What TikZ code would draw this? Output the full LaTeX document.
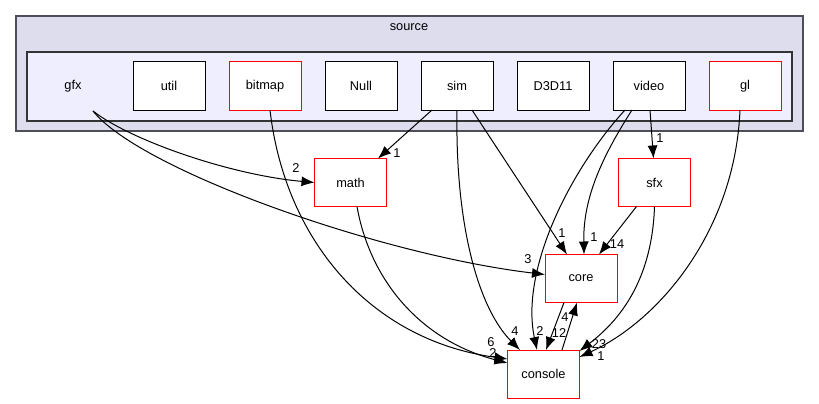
\documentclass[tikz,border=0pt]{standalone}
\usepackage{fontspec}
\setmainfont{Liberation Sans}
\usetikzlibrary{arrows.meta}
\definecolor{outerfill}{HTML}{DDDDEE}
\definecolor{innerfill}{HTML}{EEEEFF}
\definecolor{outerline}{HTML}{4E4E5A}
\definecolor{innerline}{HTML}{333333}
\definecolor{dirred}{HTML}{FF0000}
\tikzset{
  dirbox/.style={draw=black, fill=white, line width=1pt, minimum width=72pt, minimum height=48pt, inner sep=0pt, outer sep=0pt, font=\fontsize{12.8}{14}\selectfont},
  redbox/.style={dirbox, draw=dirred},
  edge/.style={draw=black, line width=1pt, -{Latex[length=13pt,width=10pt]}},
  lbl/.style={inner sep=0pt, font=\fontsize{12.8}{14}\selectfont},
}
\begin{document}
\begin{tikzpicture}[x=1pt, y=-1pt]
\useasboundingbox (0,0) rectangle (819,404);
% enclosing directory boxes
\draw[fill=outerfill, draw=outerline, line width=1.6pt] (16,16) rectangle (803,131);
\draw[fill=innerfill, draw=innerline, line width=1.2pt] (27,52) rectangle (792,121);
\node[lbl] (srclabel) at (409,27) {source};
\node[lbl] (gfx) at (73,86) {gfx};
\coordinate (gfxport) at (93,111);
% subdirectories
\node[dirbox] (util) at (169,86) {util};
\node[redbox] (bitmap) at (265,86) {bitmap};
\node[dirbox] (null) at (361,86) {Null};
\node[dirbox] (sim) at (457,86) {sim};
\node[dirbox] (d3d) at (553,86) {D3D11};
\node[dirbox] (video) at (649,86) {video};
\node[redbox] (gl) at (745,86) {gl};
% outside directories
\node[redbox] (math) at (350.5,182.5) {math};
\node[redbox] (sfx) at (654.5,182.5) {sfx};
\node[redbox] (core) at (581,278.5) {core};
\node[redbox] (console) at (543.5,374) {console};
% dependencies
\draw[edge] (gfxport) .. controls (130,140) and (230,175) .. (math.west);
\draw[edge] (gfxport) .. controls (140,170) and (380,255) .. ([yshift=4pt]core.west);
\draw[edge] ([xshift=5pt]bitmap.south) .. controls (285,240) and (370,340) .. ([yshift=-9pt]console.north west);
\draw[edge] ([xshift=6.5pt]math.south) .. controls (370,280) and (420,340) .. ([yshift=-13pt]console.north west);
\draw[edge] ([xshift=-25pt]sim.south) -- ([xshift=27.5pt]math.north);
\draw[edge] ([xshift=15pt]sim.south) -- ([xshift=-14pt]core.north);
\draw[edge] (sim.south) .. controls (455,230) and (480,310) .. ([xshift=-23.5pt]console.north);
\draw[edge] ([xshift=-24pt]video.south) .. controls (570,170) and (520,270) .. ([xshift=-6.5pt]console.north);
\draw[edge] ([xshift=-17pt]video.south) .. controls (600,160) and (583,200) .. ([xshift=3pt]core.north);
\draw[edge] ([xshift=1pt]video.south) -- ([xshift=-1pt]sfx.north);
\draw[edge] ([xshift=-18pt]sfx.south) -- ([xshift=18pt]core.north);
\draw[edge] (sfx.south) .. controls (652,280) and (620,320) .. ([yshift=-1pt]console.north east);
\draw[edge] ([xshift=-5pt]gl.south) .. controls (735,230) and (660,320) .. ([yshift=-7pt]console.north east);
\draw[edge] ([xshift=-17pt]core.south) -- ([xshift=2.5pt]console.north);
\draw[edge] ([xshift=18.5pt]console.north) -- ([xshift=-4pt]core.south);
% edge counts
\node[lbl] (c1) at (296,168) {2};
\node[lbl] (c2) at (528,259) {3};
\node[lbl] (c3) at (491,342) {6};
\node[lbl] (c4) at (493,353) {2};
\node[lbl] (c5) at (397,153) {1};
\node[lbl] (c6) at (562,233) {1};
\node[lbl] (c7) at (515,331) {4};
\node[lbl] (c8) at (540,331) {2};
\node[lbl] (c9) at (594,237) {1};
\node[lbl] (c10) at (660,138) {1};
\node[lbl] (c11) at (617,244) {14};
\node[lbl] (c12) at (559,333) {12};
\node[lbl] (c13) at (565,317) {4};
\node[lbl] (c14) at (599,344) {23};
\node[lbl] (c15) at (601,356) {1};
\end{tikzpicture}
\end{document}
